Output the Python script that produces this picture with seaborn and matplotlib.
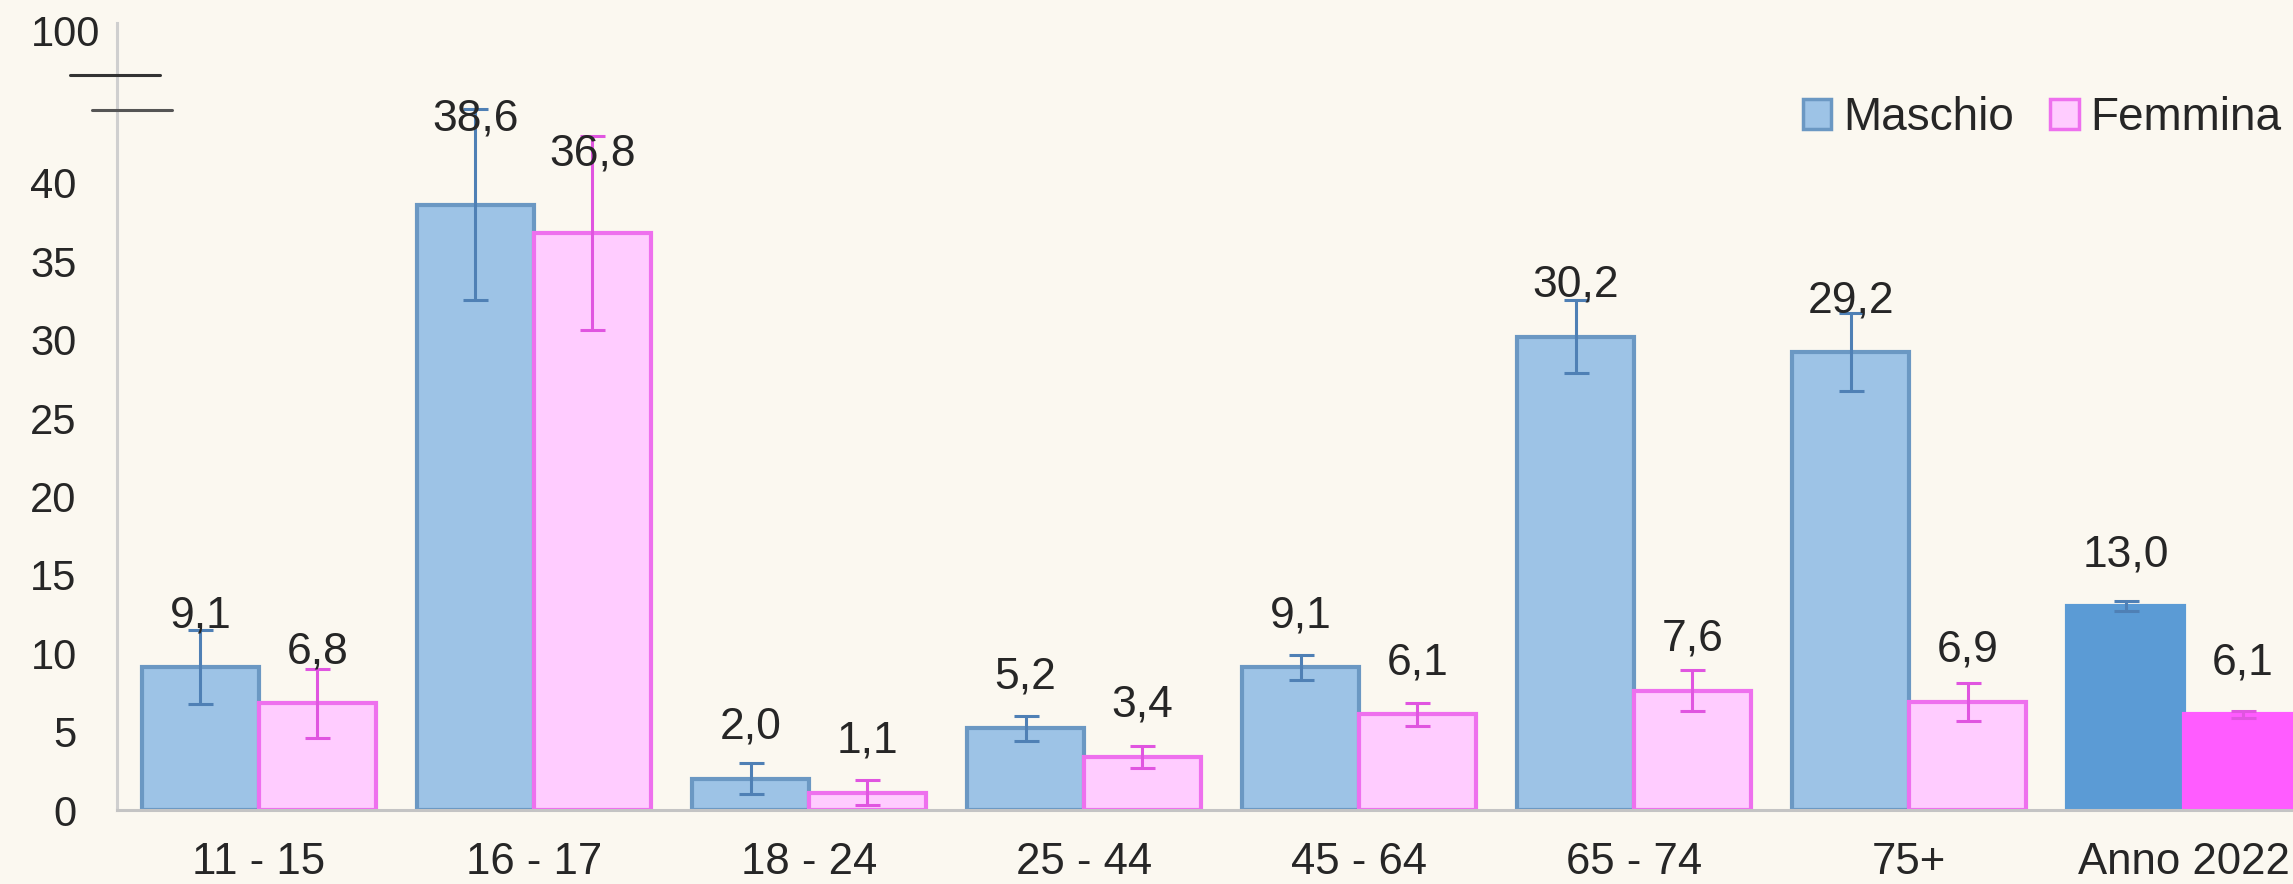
import pandas as pd
import matplotlib.pyplot as plt
import seaborn as sns
from matplotlib.patches import Patch
from matplotlib.lines import Line2D

# dati
eta = ['11 - 15', '16 - 17', '18 - 24', '25 - 44', '45 - 64', '65 - 74', '75+', 'Anno 2022']
maschio = [9.1, 38.6, 2.0, 5.2, 9.1, 30.2, 29.2, 13.0]
femmina = [6.8, 36.8, 1.1, 3.4, 6.1, 7.6, 6.9, 6.1]
err_maschio = [2.35, 6.1, 1.0, 0.8, 0.8, 2.3, 2.5, 0.3]
err_femmina = [2.2, 6.2, 0.8, 0.7, 0.75, 1.3, 1.2, 0.2]

df = pd.DataFrame({
    'Età': eta * 2,
    'Sesso': ['Maschio'] * len(eta) + ['Femmina'] * len(eta),
    'Valore': maschio + femmina,
})

BG = '#FBF8F0'
BLUE_FILL, BLUE_EDGE, BLUE_ERR = '#9DC3E6', '#6B98C3', '#4F80B5'
PINK_FILL, PINK_EDGE, PINK_ERR = '#FFCCFF', '#EE70EE', '#E055E0'
BLUE_TOT, PINK_TOT = '#5B9BD5', '#FF5CFF'
TXT = '#262626'

sns.set_style('white')
plt.rcParams['font.family'] = ['Liberation Sans', 'DejaVu Sans']

fig = plt.figure(figsize=(22.93, 8.84), dpi=100, facecolor=BG)
ax = fig.add_axes([117 / 2293, 74 / 884, 1 - 117 / 2293, 787 / 884])
ax.set_facecolor(BG)

sns.barplot(data=df, x='Età', y='Valore', hue='Sesso', hue_order=['Maschio', 'Femmina'],
            palette={'Maschio': BLUE_FILL, 'Femmina': PINK_FILL}, width=0.85,
            saturation=1, errorbar=None, legend=False, ax=ax, zorder=2)

bars_m, bars_f = ax.containers[0], ax.containers[1]
for bars, edge, tot in [(bars_m, BLUE_EDGE, BLUE_TOT), (bars_f, PINK_EDGE, PINK_TOT)]:
    for i, p in enumerate(bars):
        p.set_edgecolor(edge)
        p.set_linewidth(3)
        if eta[i] == 'Anno 2022':
            p.set_facecolor(tot)
            p.set_edgecolor(tot)

# barre di errore e etichette
for bars, vals, errs, ecol in [(bars_m, maschio, err_maschio, BLUE_ERR),
                               (bars_f, femmina, err_femmina, PINK_ERR)]:
    xs = [p.get_x() + p.get_width() / 2 for p in bars]
    ax.errorbar(xs, vals, yerr=errs, fmt='none', ecolor=ecol, elinewidth=2.2,
                capsize=9, capthick=2.2, zorder=3)
    for i, (x, v) in enumerate(zip(xs, vals)):
        pad = 37
        if eta[i] == '16 - 17':
            pad = 62 if bars is bars_m else 57
        ax.annotate(f'{v:.1f}'.replace('.', ','), (x, v), xytext=(0, pad),
                    textcoords='offset points', ha='center', va='center',
                    fontsize=32, color=TXT, zorder=4)

ax.set_xlim(-0.516, 7.396)
ax.set_ylim(0, 50.2)
ax.set_yticks(range(0, 41, 5))
ax.set_xlabel('')
ax.set_ylabel('')
ax.set_xticks(range(len(eta)))
ax.set_xticklabels(eta)
ax.set_xticks([i + 0.5 for i in range(len(eta) - 1)], minor=True)
ax.tick_params(axis='x', which='major', length=0, pad=23, labelsize=31.5, labelcolor=TXT)
ax.tick_params(axis='x', which='minor', length=6, width=1.5, color='#BDBDBD', direction='out')
ax.tick_params(axis='y', length=4, width=1.5, color='#BDBDBD', pad=25, labelsize=30, labelcolor=TXT)

for s in ['top', 'right']:
    ax.spines[s].set_visible(False)
ax.spines['left'].set_color('#CFCFCF')
ax.spines['left'].set_linewidth(2.2)
ax.spines['bottom'].set_color('#C4C4C4')
ax.spines['bottom'].set_linewidth(2.2)

# interruzione dell'asse y con il valore 100
fig.text(100 / 2293, 1 - 35 / 884, '100', ha='right', va='center', fontsize=30, color=TXT)
fig.add_artist(Line2D([70 / 2293, 160 / 2293], [1 - 75 / 884] * 2, color='#333333', lw=2.2))
fig.add_artist(Line2D([92 / 2293, 172 / 2293], [1 - 110 / 884] * 2, color='#555555', lw=2.2))

handles = [Patch(facecolor=BLUE_FILL, edgecolor=BLUE_EDGE, linewidth=2.5, label='Maschio'),
           Patch(facecolor=PINK_FILL, edgecolor=PINK_EDGE, linewidth=2.5, label='Femmina')]
fig.legend(handles=handles, loc='center left', bbox_to_anchor=(1803 / 2293, 1 - 118 / 884),
           ncol=2, frameon=False, fontsize=33, handlelength=0.62, handleheight=0.62,
           handletextpad=0.25, columnspacing=0.8, borderpad=0, borderaxespad=0,
           labelcolor=TXT)

fig.savefig('out.png', dpi=100, facecolor=BG)
